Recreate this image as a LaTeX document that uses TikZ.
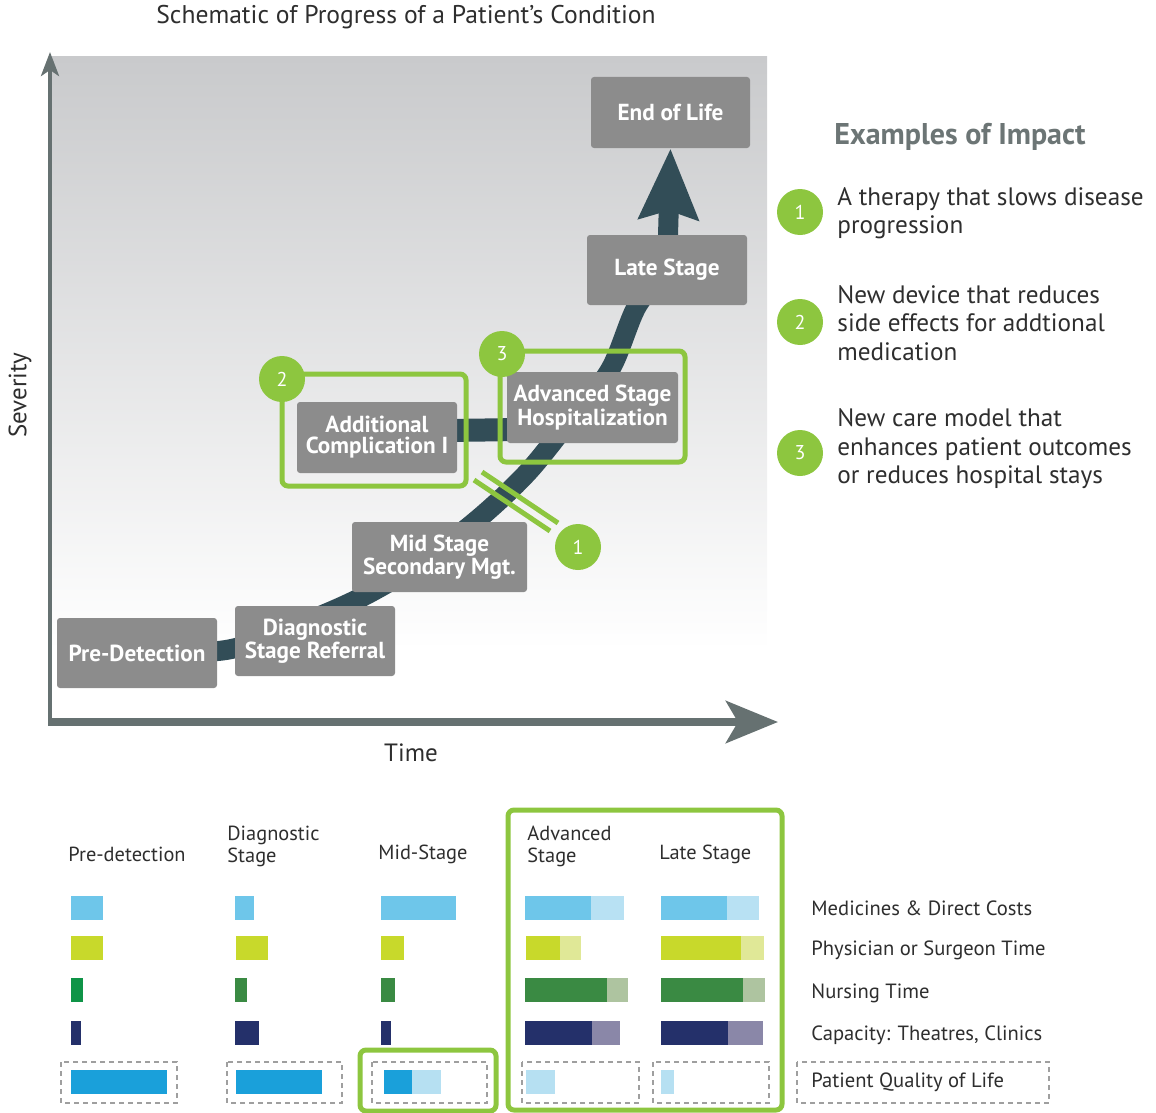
\documentclass[tikz,border=0pt]{standalone}
\usepackage{fontspec}
\setmainfont{PT Sans}
\usetikzlibrary{arrows.meta}
\usetikzlibrary{positioning}
\definecolor{boxgray}{HTML}{8C8C8C}
\definecolor{axisgray}{HTML}{667171}
\definecolor{curveslate}{HTML}{324D57}
\definecolor{impactgreen}{HTML}{8DC63F}
\definecolor{textgray}{HTML}{2E2E2E}
\definecolor{headgray}{HTML}{6C7575}
\definecolor{bgtop}{HTML}{C9CACC}
\definecolor{medblue}{HTML}{6EC6EA}
\definecolor{medblueL}{HTML}{B8E1F3}
\definecolor{phyyel}{HTML}{C8D92B}
\definecolor{phyyelL}{HTML}{E0E897}
\definecolor{nursgreen}{HTML}{3A8A43}
\definecolor{nursgreenA}{HTML}{0F9447}
\definecolor{nursgreenL}{HTML}{AEC4A0}
\definecolor{capnavy}{HTML}{24306A}
\definecolor{capnavyL}{HTML}{8A87A8}
\definecolor{qolblue}{HTML}{1AA0DA}
\definecolor{qolblueL}{HTML}{B6E0F2}
\pgfdeclarelayer{bg}
\pgfsetlayers{bg,main}

\begin{document}
\begin{tikzpicture}[x=0.5pt,y=-0.5pt,
  stage/.style={rectangle,rounded corners=1.5pt,fill=boxgray,text=white,align=center,
    font=\fontsize{11.6}{10.5}\selectfont\bfseries,inner sep=1pt},
  badge/.style={circle,fill=impactgreen,text=white,minimum size=23pt,inner sep=0pt,
    font=\fontsize{10}{12}\selectfont},
  frame/.style={draw=impactgreen,line width=2.5pt,rounded corners=3pt},
  slowmark/.style={impactgreen,line width=2.5pt},
  impact/.style={anchor=west,align=left,inner sep=0pt,text=textgray,font=\fontsize{12.6}{14.2}\selectfont},
  colhead/.style={anchor=west,align=left,inner sep=0pt,text=textgray,font=\fontsize{10.2}{11}\selectfont},
  rowlabel/.style={anchor=west,inner sep=0pt,text=textgray,font=\fontsize{10.3}{12}\selectfont},
  qolbox/.style={draw=gray!75,line width=0.6pt,dash pattern=on 2.5pt off 2pt}]
\useasboundingbox (0,0) rectangle (1156,1113);

\node[text=textgray,font=\fontsize{12.8}{15}\selectfont] (title) at (406,17) {Schematic of Progress of a Patient's Condition};

% stages along the curve
\node[stage,minimum width=79.5pt,minimum height=35.5pt] (eol) at (670.5,112.5) {End of Life};
\node[stage,minimum width=80pt,minimum height=35pt] (late) at (667,270) {Late Stage};
\node[stage,minimum width=85.5pt,minimum height=35.5pt] (adv) at (592.5,407.5) {Advanced Stage\\Hospitalization};
\node[stage,minimum width=80pt,minimum height=35.5pt] (add) at (377,437.5) {Additional\\Complication I};
\node[stage,minimum width=87.5pt,minimum height=35pt] (mid) at (439.5,557) {Mid Stage\\Secondary Mgt.};
\node[stage,minimum width=80pt,minimum height=35pt] (diag) at (315,641) {Diagnostic\\Stage Referral};
\node[stage,minimum width=80pt,minimum height=35pt] (pre) at (137,653) {Pre-Detection};

\begin{pgfonlayer}{bg}
\shade[top color=bgtop,bottom color=white] (52,57) rectangle (767,650);
\coordinate (origin) at (50,722);
\coordinate (ytip) at (50,52);
\coordinate (xtip) at (778,722);
\draw[axisgray,line width=2pt,-{Stealth[length=12pt,width=9pt,inset=3pt]}] (origin) -- (ytip);
\draw[axisgray,line width=4pt,-{Stealth[length=26pt,width=21pt,inset=6pt]}] ([xshift=-1pt]origin) -- (xtip);
\draw[curveslate,line width=10pt,-{Stealth[length=35pt,width=29pt,inset=4pt]}]
  plot[smooth,tension=0.55] coordinates {(pre.center) (226,650) (290,628) (358,599) (420,563) (477,520)
  (527,473) (570,420) (610,370) (637,306) (late.center)} -- (eol.south);
\draw[curveslate,line width=11.5pt] ([yshift=3pt]add.center) -- ([yshift=-10.5pt]adv.center);
\end{pgfonlayer}

\node[rotate=90,text=textgray,font=\fontsize{12.5}{14}\selectfont] (sev) at (20,395) {Severity};
\node[text=textgray,font=\fontsize{12.5}{14}\selectfont] (time) at (411,753) {Time};

\draw[frame] (282,374) rectangle (466,486);
\draw[frame] (500,351) rectangle (685,462);
\draw[slowmark] (482,472) -- (558,523);
\draw[slowmark] (474,480) -- (550,531);
\node[badge] (b2) at (282,379) {2};
\node[badge] (b3) at (502,354) {3};
\node[badge] (b1) at (578,547) {1};

% examples of impact
\node[anchor=west,inner sep=0pt,text=headgray,font=\fontsize{15}{17}\selectfont\bfseries] (exhead) at (834,137) {Examples of Impact};
\node[badge] (e1) at (800,212) {1};
\node[badge] (e2) at (800,322) {2};
\node[badge] (e3) at (800,453) {3};
\node[impact] (t1) at (837,213.5) {A therapy that slows disease\\progression};
\node[impact] (t2) at (837,323) {New device that reduces\\side effects for addtional\\medication};
\node[impact] (t3) at (837,449) {New care model that\\enhances patient outcomes\\or reduces hospital stays};

% resource bars
\node[colhead] (h1) at (68,854) {Pre-detection};
\node[colhead] (h2) at (227,846) {Diagnostic\\Stage};
\node[colhead] (h3) at (378,854) {Mid-Stage};
\node[colhead] (h4) at (527,846) {Advanced\\Stage};
\node[colhead] (h5) at (659,854) {Late Stage};

\fill[medblue] (71,896) rectangle (103,920);
\fill[phyyel] (71,936) rectangle (103,960);
\fill[nursgreenA] (71,978) rectangle (83,1002);
\fill[capnavy] (71,1021) rectangle (81,1045);
\fill[qolblue] (71,1070) rectangle (167,1094);

\fill[medblue] (235,896) rectangle (254,920);
\fill[phyyel] (236,936) rectangle (268,960);
\fill[nursgreen] (235,978) rectangle (247,1002);
\fill[capnavy] (235,1021) rectangle (259,1045);
\fill[qolblue] (236,1070) rectangle (322,1094);

\fill[medblue] (381,896) rectangle (456,920);
\fill[phyyel] (381,936) rectangle (404,960);
\fill[nursgreen] (381,978) rectangle (395,1002);
\fill[capnavy] (381,1021) rectangle (391,1045);
\fill[qolblue] (384,1070) rectangle (412,1094);
\fill[qolblueL] (412,1070) rectangle (441,1094);

\fill[medblue] (525,896) rectangle (591,920);
\fill[medblueL] (591,896) rectangle (624,920);
\fill[phyyel] (526,936) rectangle (560,960);
\fill[phyyelL] (560,936) rectangle (581,960);
\fill[nursgreen] (525,978) rectangle (607,1002);
\fill[nursgreenL] (607,978) rectangle (628,1002);
\fill[capnavy] (525,1021) rectangle (592,1045);
\fill[capnavyL] (592,1021) rectangle (620,1045);
\fill[qolblueL] (526,1070) rectangle (555,1094);

\fill[medblue] (661,896) rectangle (727,920);
\fill[medblueL] (727,896) rectangle (759,920);
\fill[phyyel] (661,936) rectangle (741,960);
\fill[phyyelL] (741,936) rectangle (764,960);
\fill[nursgreen] (661,978) rectangle (743,1002);
\fill[nursgreenL] (743,978) rectangle (765,1002);
\fill[capnavy] (661,1021) rectangle (728,1045);
\fill[capnavyL] (728,1021) rectangle (763,1045);
\fill[qolblueL] (661,1070) rectangle (674,1094);

\draw[qolbox] (61,1062) rectangle (177,1103);
\draw[qolbox] (227,1062) rectangle (342,1103);
\draw[qolbox] (372,1062) rectangle (487,1103);
\draw[qolbox] (522,1062) rectangle (639,1103);
\draw[qolbox] (653,1062) rectangle (769,1103);
\draw[qolbox] (797,1062) rectangle (1049,1103);

\draw[frame] (360,1050) rectangle (496,1111);
\draw[frame] (508,810) rectangle (782,1110);

\node[rowlabel] (l1) at (811,908) {Medicines \& Direct Costs};
\node[rowlabel] (l2) at (811,950) {Physician or Surgeon Time};
\node[rowlabel] (l3) at (811,993) {Nursing Time};
\node[rowlabel] (l4) at (811,1035) {Capacity: Theatres, Clinics};
\node[rowlabel] (l5) at (811,1082) {Patient Quality of Life};

\end{tikzpicture}
\end{document}
